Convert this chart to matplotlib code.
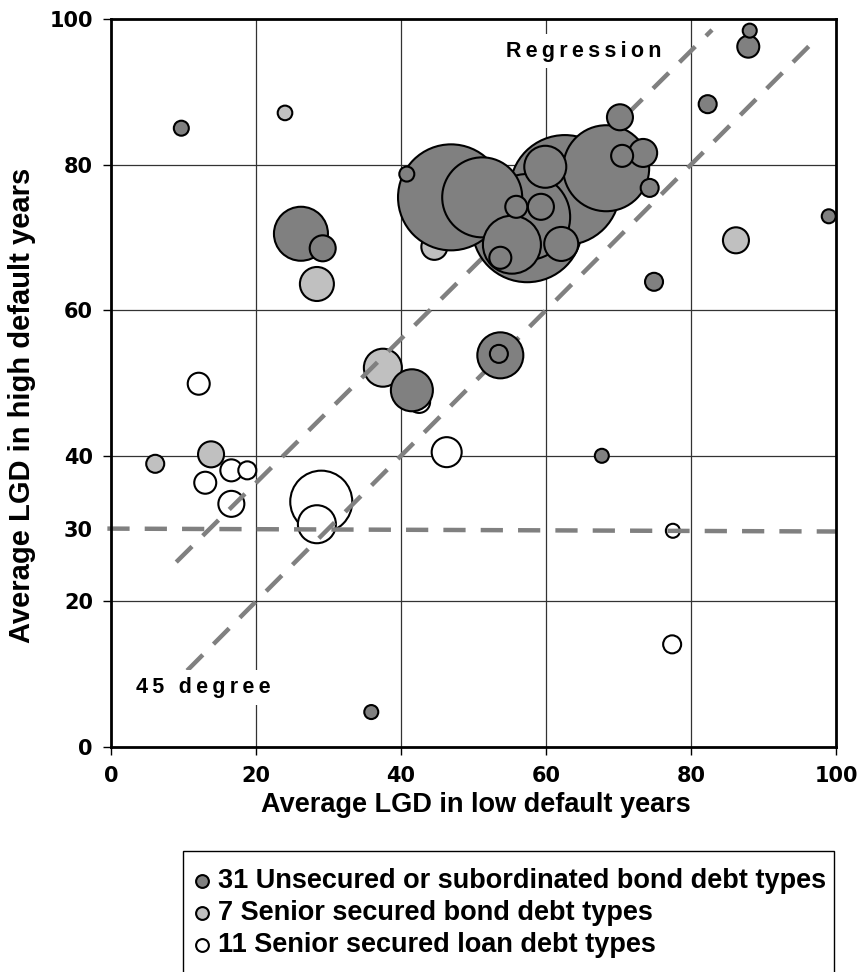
import matplotlib
matplotlib.use("Agg")
import matplotlib.pyplot as plt
from matplotlib.patches import Rectangle

plt.rcParams['font.family'] = ['Liberation Sans', 'DejaVu Sans']
plt.rcParams['font.weight'] = 'bold'

# Unsecured or subordinated bond debt types (x, y, bubble radius in px)
unsec_x = [9.7, 26.2, 29.2, 40.8, 46.9, 51.2, 57.4, 57.4, 62.6, 68.3, 55.3, 53.7, 55.9, 59.3, 59.9,
           62.1, 70.2, 70.5, 73.4, 74.3, 74.9, 82.3, 88.1, 87.9, 99.0, 53.7, 53.5, 41.5, 67.7, 35.9]
unsec_y = [85.0, 70.5, 68.5, 78.7, 75.5, 75.5, 72.8, 71.4, 76.5, 79.5, 69.0, 67.2, 74.2, 74.2, 79.7,
           69.1, 86.5, 81.2, 81.6, 76.8, 63.9, 88.3, 98.4, 96.2, 72.9, 53.8, 54.0, 49.0, 40.0, 4.8]
unsec_r = [7.5, 27, 13, 7.5, 53, 40, 43, 55, 55, 43, 29, 11, 11, 13, 21,
           17, 13, 11, 14, 9, 9, 9, 7, 11, 7, 23, 9, 21, 7, 7]

# Senior secured bond debt types
bond_x = [24.0, 28.4, 44.6, 37.5, 13.8, 6.1, 86.2]
bond_y = [87.1, 63.6, 68.7, 52.1, 40.2, 38.9, 69.6]
bond_r = [7.3, 17, 13, 19, 13, 9, 13]

# Senior secured loan debt types
loan_x = [12.1, 16.6, 18.8, 13.0, 16.6, 29.0, 28.4, 42.5, 46.3, 77.5, 77.4]
loan_y = [49.9, 38.0, 38.0, 36.3, 33.4, 33.7, 30.6, 47.4, 40.5, 29.7, 14.1]
loan_r = [11, 11, 9, 11, 13, 31, 19, 11, 15, 7, 9]

labels = ['31 Unsecured or subordinated bond debt types',
          '7 Senior secured bond debt types',
          '11 Senior secured loan debt types']

# reference lines
reg_x = [9.0, 82.9]
reg_y = [25.4, 98.5]
deg_x = [10.5, 96.3]
deg_y = [10.5, 96.3]
flat_x = [-0.5, 100]
flat_y = [30.0, 29.6]

TS = '\u2009'


def area(r):
    # radius in pixels (dpi 100) -> scatter size in points^2
    return [(2 * v * 0.72) ** 2 for v in r]


def draw(ax, xs, ys, rs, color, z, label):
    order = sorted(range(len(rs)), key=lambda i: -rs[i])
    ax.scatter([xs[i] for i in order], [ys[i] for i in order], s=area([rs[i] for i in order]),
               c=color, edgecolors='black', linewidths=1.5, zorder=z, label=label, clip_on=False)


fig = plt.figure(figsize=(8.59, 9.72), dpi=100)
ax = fig.add_axes([111 / 859, 225 / 972, 725 / 859, 728 / 972])

for g in [20, 40, 60, 80]:
    ax.axvline(g, color='#333333', lw=0.9, zorder=1)
    ax.axhline(g, color='#333333', lw=0.9, zorder=1)

dash = dict(color='#808080', lw=3.2, dashes=(5, 3.4), zorder=2.5, solid_capstyle='butt')
ax.plot(reg_x, reg_y, **dash)
ax.plot(deg_x, deg_y, **dash)
ax.plot(flat_x, flat_y, clip_on=False, **dash)

draw(ax, bond_x, bond_y, bond_r, '#c0c0c0', 2, labels[1])
draw(ax, loan_x, loan_y, loan_r, 'white', 2, labels[2])
draw(ax, unsec_x, unsec_y, unsec_r, '#808080', 3, labels[0])

ax.text(65.2, 95.6, TS.join('Regression'), fontsize=15.5, fontweight='bold', ha='center', va='center',
        bbox=dict(facecolor='white', edgecolor='none', pad=5), zorder=6)
ax.text(12.8, 8.2, TS.join('45 degree'), fontsize=15.5, fontweight='bold', ha='center', va='center',
        bbox=dict(facecolor='white', edgecolor='none', pad=5), zorder=6)

ax.set_xlim(0, 100)
ax.set_ylim(0, 100)
ax.set_xticks([0, 20, 40, 60, 80, 100])
ax.set_yticks([0, 20, 30, 40, 60, 80, 100])
ax.yaxis.get_major_ticks()[2].tick1line.set_visible(False)
ax.tick_params(direction='out', length=6, width=1, labelsize=15)
ax.tick_params(axis='x', pad=8)
ax.tick_params(axis='y', pad=7)
for lab in ax.get_xticklabels() + ax.get_yticklabels():
    lab.set_fontweight('bold')
    lab.set_family('DejaVu Sans')
for s in ax.spines.values():
    s.set_linewidth(2)
    s.set_zorder(7)

fig.text(476 / 859, 1 - 805 / 972, 'Average LGD in low default years', fontsize=19.5, fontweight='bold',
         ha='center', va='center')
fig.text(22 / 859, 1 - 405 / 972, 'Average LGD in high default years', fontsize=21, fontweight='bold',
         ha='center', va='center', rotation=90)

# legend frame runs past the bottom edge of the image
fig.patches.append(Rectangle((183 / 859, -0.05), (834 - 183) / 859, 0.05 + 121 / 972,
                             transform=fig.transFigure, facecolor='white', edgecolor='black',
                             lw=1, zorder=0))

handles, labs = ax.get_legend_handles_labels()
order = [labs.index(l) for l in labels]
leg = fig.legend([handles[i] for i in order], [labs[i] for i in order],
                 loc='upper left', bbox_to_anchor=(186 / 859, 1 - 868 / 972),
                 prop=dict(size=19.5, weight='bold'), frameon=False,
                 handletextpad=0.0, borderpad=0.0, borderaxespad=0.0, labelspacing=0.22,
                 handlelength=1.2)
for h in leg.legend_handles:
    h.set_sizes([85])

fig.savefig('out.png', dpi=100)
